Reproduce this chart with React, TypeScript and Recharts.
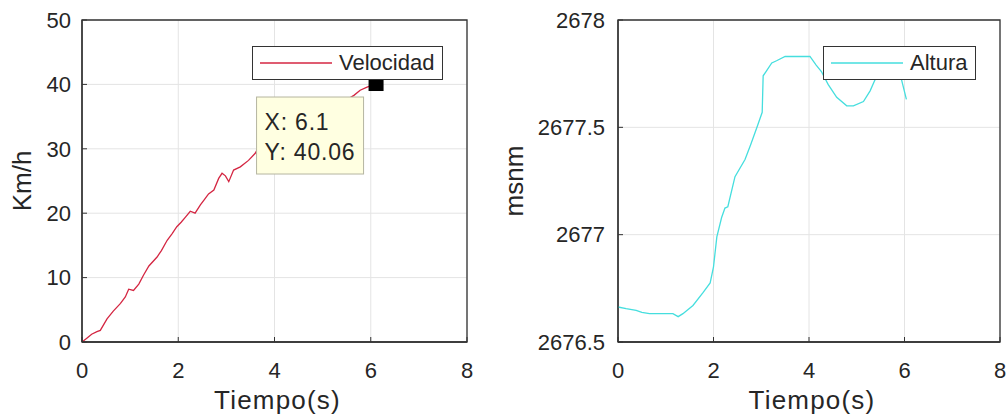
import React from 'react';
import { LineChart, Line, XAxis, YAxis, CartesianGrid, Legend, ReferenceDot, ReferenceArea, Label } from 'recharts';

const timeTicks = [0, 2, 4, 6, 8];
const velTicks = [0, 10, 20, 30, 40, 50];
const altTicks = [2676.5, 2677, 2677.5, 2678];

const velTime = [0, 0.1, 0.2, 0.31, 0.38, 0.52, 0.65, 0.8, 0.9, 0.97, 1.07, 1.18, 1.28, 1.39, 1.56, 1.65, 1.77, 1.87, 1.97, 2.06, 2.15, 2.25, 2.35, 2.46, 2.55, 2.63, 2.74, 2.84, 2.91, 2.98, 3.05, 3.15, 3.29, 3.46, 3.6, 3.67, 3.9, 4.2, 4.5, 4.8, 5.1, 5.3, 5.5, 5.65, 5.78, 5.9, 6.0, 6.1];
const velocidad = [0, 0.6, 1.2, 1.6, 1.8, 3.6, 4.8, 6.0, 7.0, 8.2, 8.0, 9.0, 10.4, 11.8, 13.2, 14.2, 15.8, 16.8, 17.9, 18.6, 19.4, 20.3, 20.0, 21.3, 22.2, 23.0, 23.6, 25.4, 26.2, 25.8, 24.9, 26.7, 27.2, 28.2, 29.3, 30.3, 31.2, 32.4, 33.5, 34.6, 35.7, 36.6, 37.6, 38.3, 39.1, 39.5, 39.8, 40.06];

const altTime = [0, 0.17, 0.38, 0.5, 0.66, 0.9, 1.15, 1.26, 1.36, 1.57, 1.78, 1.93, 2.0, 2.07, 2.17, 2.24, 2.3, 2.45, 2.66, 2.78, 2.91, 3.02, 3.04, 3.1, 3.22, 3.32, 3.5, 4.02, 4.15, 4.26, 4.4, 4.58, 4.79, 4.93, 5.14, 5.28, 5.38, 5.55, 5.75, 5.94, 6.04];
const altura = [2676.663, 2676.655, 2676.647, 2676.638, 2676.632, 2676.632, 2676.632, 2676.618, 2676.632, 2676.67, 2676.73, 2676.775, 2676.85, 2676.99, 2677.08, 2677.124, 2677.13, 2677.27, 2677.35, 2677.42, 2677.5, 2677.57, 2677.74, 2677.76, 2677.8, 2677.81, 2677.83, 2677.83, 2677.79, 2677.76, 2677.7, 2677.64, 2677.6, 2677.6, 2677.62, 2677.67, 2677.72, 2677.8, 2677.82, 2677.72, 2677.63];

const tipX = 6.1;
const tipY = 40.06;

const velData = velTime.map((t, i) => ({ t, v: velocidad[i] }));
const altData = altTime.map((t, i) => ({ t, a: altura[i] }));

const FONT = '"Liberation Sans", Arial, Helvetica, sans-serif';
const AXIS = '#333333';
const TEXT = '#262626';
const RED = '#d42642';
const CYAN = '#45dede';
const tickStyle = { fill: TEXT, fontSize: 22, fontFamily: FONT };

const legendBox = (name: string, color: string, width: number) => () => (
  <div
    style={{
      width,
      height: 34,
      boxSizing: 'border-box',
      border: `1.3px solid ${AXIS}`,
      background: '#fff',
      display: 'flex',
      alignItems: 'center',
      fontFamily: FONT,
      fontSize: 22,
      color: TEXT,
    }}
  >
    <svg width={80} height={10} style={{ flex: 'none' }}>
      <line x1={7} x2={79} y1={5} y2={5} stroke={color} strokeWidth={1.3} />
    </svg>
    <span style={{ marginLeft: 6 }}>{name}</span>
  </div>
);

const xLabel = (props: any) => {
  const vb = props.viewBox;
  return (
    <text x={vb.x + vb.width / 2 + 3} y={vb.y + 67} textAnchor="middle" fill={TEXT} fontSize={26} letterSpacing={1.2} fontFamily={FONT}>
      Tiempo(s)
    </text>
  );
};

const yLabel = (text: string, x: number) => (props: any) => {
  const vb = props.viewBox;
  const y = vb.y + vb.height / 2;
  return (
    <text x={x} y={y} transform={`rotate(-90, ${x}, ${y})`} textAnchor="middle" fill={TEXT} fontSize={26} fontFamily={FONT}>
      {text}
    </text>
  );
};

const DataTip = (props: any) => {
  const { cx, cy } = props;
  return (
    <g>
      <rect x={cx - 119} y={cy + 13} width={107} height={77} fill="#ffffe1" stroke="#b5b5a0" strokeWidth={1} />
      <text x={cx - 111} y={cy + 46} fill={TEXT} fontSize={23} letterSpacing={0.8} fontFamily={FONT}>{`X: ${tipX}`}</text>
      <text x={cx - 111} y={cy + 76} fill={TEXT} fontSize={23} letterSpacing={0.8} fontFamily={FONT}>{`Y: ${tipY}`}</text>
      <rect x={cx - 7} y={cy - 6} width={15} height={13} fill="#000" />
    </g>
  );
};

const axisCommon = {
  axisLine: { stroke: AXIS, strokeWidth: 1.3 },
  tickLine: { stroke: AXIS },
  tickSize: -5,
};

export default function App() {
  return (
    <div style={{ position: 'absolute', left: 0, top: 0, width: 1006, height: 420, background: '#fff', overflow: 'hidden' }}>
      <div style={{ position: 'absolute', left: 0, top: 0 }}>
        <LineChart width={490} height={420} data={velData} margin={{ top: 20, right: 23, bottom: 0, left: 0 }}>
          <CartesianGrid stroke="#e4e4e4" strokeWidth={1} xAxisId="b" yAxisId="l" />
          <XAxis xAxisId="b" dataKey="t" type="number" domain={[0, 8]} ticks={timeTicks} height={78} tickMargin={25} tick={tickStyle} {...axisCommon}>
            <Label content={xLabel} />
          </XAxis>
          <XAxis xAxisId="top" orientation="top" type="number" domain={[0, 8]} ticks={timeTicks} height={0} tick={false} {...axisCommon} />
          <YAxis yAxisId="l" type="number" domain={[0, 50]} ticks={velTicks} width={82} tickMargin={16} tick={tickStyle} {...axisCommon}>
            <Label content={yLabel('Km/h', 31)} />
          </YAxis>
          <YAxis yAxisId="r" orientation="right" type="number" domain={[0, 50]} ticks={velTicks} width={0} tick={false} {...axisCommon} />
          <ReferenceArea xAxisId="b" yAxisId="l" x1={0} x2={8} y1={0} y2={50} fill="none" fillOpacity={0} stroke={AXIS} strokeWidth={1.3} />
          <Line xAxisId="b" yAxisId="l" dataKey="v" type="linear" stroke={RED} strokeWidth={1.3} dot={false} isAnimationActive={false} name="Velocidad" />
          <ReferenceDot xAxisId="b" yAxisId="l" x={tipX} y={tipY} shape={DataTip} />
          <Legend layout="horizontal" verticalAlign="middle" align="center" wrapperStyle={{ left: 252, top: 46, width: 191, height: 34 }} content={legendBox('Velocidad', RED, 191)} />
        </LineChart>
      </div>
      <div style={{ position: 'absolute', left: 500, top: 0 }}>
        <LineChart width={506} height={420} data={altData} margin={{ top: 20, right: 6, bottom: 0, left: 0 }}>
          <CartesianGrid stroke="#e4e4e4" strokeWidth={1} xAxisId="b" yAxisId="l" />
          <XAxis xAxisId="b" dataKey="t" type="number" domain={[0, 8]} ticks={timeTicks} height={78} tickMargin={25} tick={tickStyle} {...axisCommon}>
            <Label content={xLabel} />
          </XAxis>
          <XAxis xAxisId="top" orientation="top" type="number" domain={[0, 8]} ticks={timeTicks} height={0} tick={false} {...axisCommon} />
          <YAxis yAxisId="l" type="number" domain={[2676.5, 2678]} ticks={altTicks} width={118} tickMargin={18} tick={tickStyle} {...axisCommon}>
            <Label content={yLabel('msnm', 23)} />
          </YAxis>
          <YAxis yAxisId="r" orientation="right" type="number" domain={[2676.5, 2678]} ticks={altTicks} width={0} tick={false} {...axisCommon} />
          <ReferenceArea xAxisId="b" yAxisId="l" x1={0} x2={8} y1={2676.5} y2={2678} fill="none" fillOpacity={0} stroke={AXIS} strokeWidth={1.3} />
          <Line xAxisId="b" yAxisId="l" dataKey="a" type="linear" stroke={CYAN} strokeWidth={1.3} dot={false} isAnimationActive={false} name="Altura" />
          <Legend layout="horizontal" verticalAlign="middle" align="center" wrapperStyle={{ left: 323, top: 46, width: 153, height: 35 }} content={legendBox('Altura', CYAN, 153)} />
        </LineChart>
      </div>
    </div>
  );
}
